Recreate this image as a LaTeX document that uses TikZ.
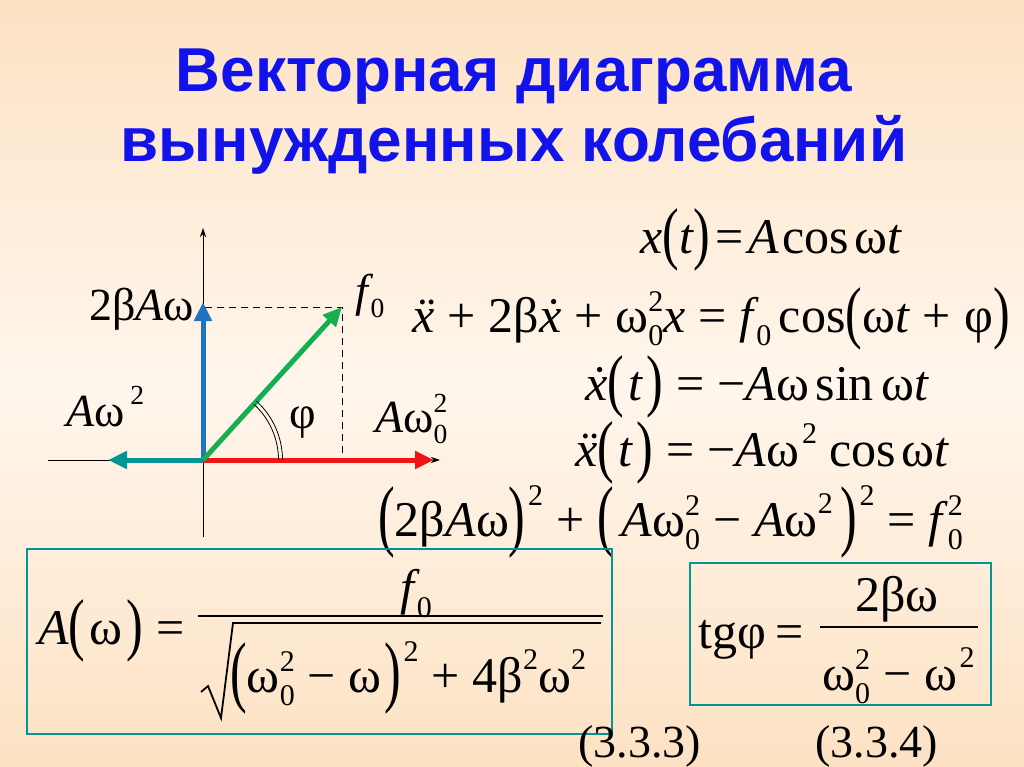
\documentclass[tikz,border=0pt]{standalone}
\usepackage{fontspec}
\setmainfont{Liberation Serif}
\newfontfamily\titlefont{Liberation Sans}
\usepackage{graphicx}
\usetikzlibrary{arrows.meta}

\definecolor{titleblue}{RGB}{18,18,235}
\definecolor{vecblue}{RGB}{30,115,195}
\definecolor{vecteal}{RGB}{0,150,150}
\definecolor{vecred}{RGB}{240,20,20}
\definecolor{vecgreen}{RGB}{20,175,80}
\definecolor{bgedge}{RGB}{253,226,196}
\definecolor{bgmid}{RGB}{255,246,236}

% parentheses, operators and indices
\newcommand\lp{\raisebox{-0.06em}{\scalebox{1}[1.38]{(}}}
\newcommand\rp{\raisebox{-0.06em}{\scalebox{1}[1.38]{)}}}
\newcommand\Lp{\raisebox{-0.1em}{\scalebox{1}[1.58]{(}}}
\newcommand\Rp{\raisebox{-0.1em}{\scalebox{1}[1.58]{)}}}
\newcommand\op[1]{\hspace{0.26em}#1\hspace{0.26em}}
\newcommand\scr[1]{\scalebox{0.6}{#1}}
\newcommand\sups[1]{\raisebox{0.46em}{\scr{#1}}}
\newcommand\psup[1]{\raisebox{0.62em}{\scr{#1}}}
\newcommand\subs[1]{\raisebox{-0.26em}{\scr{#1}}}
\newcommand\supsub[2]{\rlap{\raisebox{0.42em}{\scr{#1}}}\subs{#2}}
\newcommand\xv{\textit{x}}
\newcommand\dx{\textit{\.x}}
\newcommand\ddx{\textit{\"x}}
\newcommand\fz{\textit{f}\hspace{-0.06em}}

\begin{document}
\begin{tikzpicture}[x=1pt,y=-1pt,
  txt/.style={inner sep=0pt,anchor=base west,font=\fontsize{50}{56}\selectfont},
  lbl/.style={inner sep=0pt,anchor=base west,font=\fontsize{46}{52}\selectfont},
  vec/.style={line width=5pt,-{Triangle[length=19pt,width=17pt]}},
  axis/.style={line width=0.8pt,-{Stealth[length=9pt,width=6pt]}},
  frame/.style={draw=vecteal,line width=1.6pt}]

\useasboundingbox (0,0) rectangle (1024,767);
\shade[top color=bgedge,bottom color=bgedge,middle color=bgmid] (0,0) rectangle (1024,767);

% title
\node[font=\titlefont\bfseries\fontsize{62}{70}\selectfont,text=titleblue,align=center,inner sep=0pt] (title) at (514,112) {Векторная диаграмма\\вынужденных колебаний};

% vector diagram
\coordinate (O) at (203,460);
\coordinate (Xl) at (48,460);
\coordinate (Xr) at (440,460);
\coordinate (Yb) at (203,537);
\coordinate (Yt) at (203,228);
\coordinate (B) at (203,302);
\coordinate (T) at (108,460);
\coordinate (R) at (434,460);
\coordinate (F) at (342,307);
\coordinate (Fy) at (205,307);
\coordinate (Fx) at (342,460);

\draw[axis] (Xl) -- (Xr);
\draw[axis] (Yb) -- (Yt);
\draw[dashed,line width=1pt,dash pattern=on 7pt off 5pt] (Fy) -- (F) -- (Fx);
\draw[vec,vecred] (O) -- (R);
\draw[vec,vecteal] (O) -- (T);
\draw[vec,vecblue] (O) -- (B);
\draw[vec,vecgreen] (O) -- (F);
\draw[line width=0.8pt] ([shift={(0:75.5)}]O) arc[start angle=0,end angle=-47.6,radius=75.5];
\draw[line width=0.8pt] ([shift={(0:79.5)}]O) arc[start angle=0,end angle=-47.6,radius=79.5];

\node[lbl] (lblB) at (89,320) {2β\textit{A}ω};
\node[lbl] (lblF) at (355,306) {\fz\subs{0}};
\node[lbl] (lblT) at (66,426) {\textit{A}ω\hspace{0.12em}\sups{2}};
\node[lbl] (lblphi) at (289,428) {φ};
\node[lbl] (lblR) at (375,432) {\textit{A}ω\supsub{2}{0}};

% equations
\node[txt] (eq1) at (640,253) {\xv\lp\textit{t}\rp\hspace{0.1em}=\hspace{0.1em}\textit{A}\hspace{0.05em}cos\hspace{0.12em}ω\textit{t}};
\node[txt] (eq2) at (412,332) {\ddx\op{+}2β\dx\op{+}ω\supsub{2}{0}\xv\op{=}\fz\subs{0}\hspace{0.15em}cos\lp ω\textit{t}\op{+}φ\rp};
\node[txt] (eq3) at (585,400) {\dx\lp\hspace{0.08em}\textit{t}\hspace{0.08em}\rp\op{=}−\textit{A}ω\hspace{0.12em}sin\hspace{0.15em}ω\textit{t}};
\node[txt] (eq4) at (575,466) {\ddx\lp\hspace{0.08em}\textit{t}\hspace{0.08em}\rp\op{=}−\textit{A}ω\hspace{0.05em}\sups{2}\hspace{0.25em}cos\hspace{0.1em}ω\textit{t}};
\node[txt] (eq5) at (378,536) {\Lp 2β\textit{A}ω\Rp\hspace{0.05em}\psup{2}\op{+}\Lp\hspace{0.15em}\textit{A}ω\supsub{2}{0}\op{−}\textit{A}ω\sups{2}\hspace{0.15em}\Rp\hspace{0.05em}\psup{2}\op{=}\fz\hspace{0.05em}\supsub{2}{0}};

% amplitude
\draw[frame] (27,549) rectangle (612,734);
\node[txt] (amp) at (38,644) {\textit{A}\lp\hspace{0.08em}ω\hspace{0.08em}\rp\op{=}};
\node[txt] (ampnum) at (400,604) {\fz\subs{0}};
\coordinate (bar1l) at (198,616);
\coordinate (bar1r) at (603,616);
\draw[line width=2pt] (bar1l) -- (bar1r);
\draw[line width=1.8pt,line join=miter] (201,692) -- (208,686) -- (221,718) -- (233,623) -- (601,623);
\node[txt] (ampden) at (230,692) {\Lp ω\supsub{2}{0}\op{−}ω\hspace{0.05em}\Rp\hspace{0.05em}\psup{2}\op{+}4β\sups{2}ω\sups{2}};

% phase
\draw[frame] (690,563) rectangle (991,705);
\node[txt] (tg) at (698,648) {tgφ\hspace{0.2em}=};
\node[txt] (tgnum) at (855,611) {2βω};
\coordinate (bar2l) at (820,627);
\coordinate (bar2r) at (978,627);
\draw[line width=2pt] (bar2l) -- (bar2r);
\node[txt] (tgden) at (822,690) {ω\supsub{2}{0}\op{−}ω\hspace{0.05em}\sups{2}};

\node[lbl] (n1) at (578,757) {(3.3.3)};
\node[lbl] (n2) at (815,757) {(3.3.4)};

\end{tikzpicture}
\end{document}
